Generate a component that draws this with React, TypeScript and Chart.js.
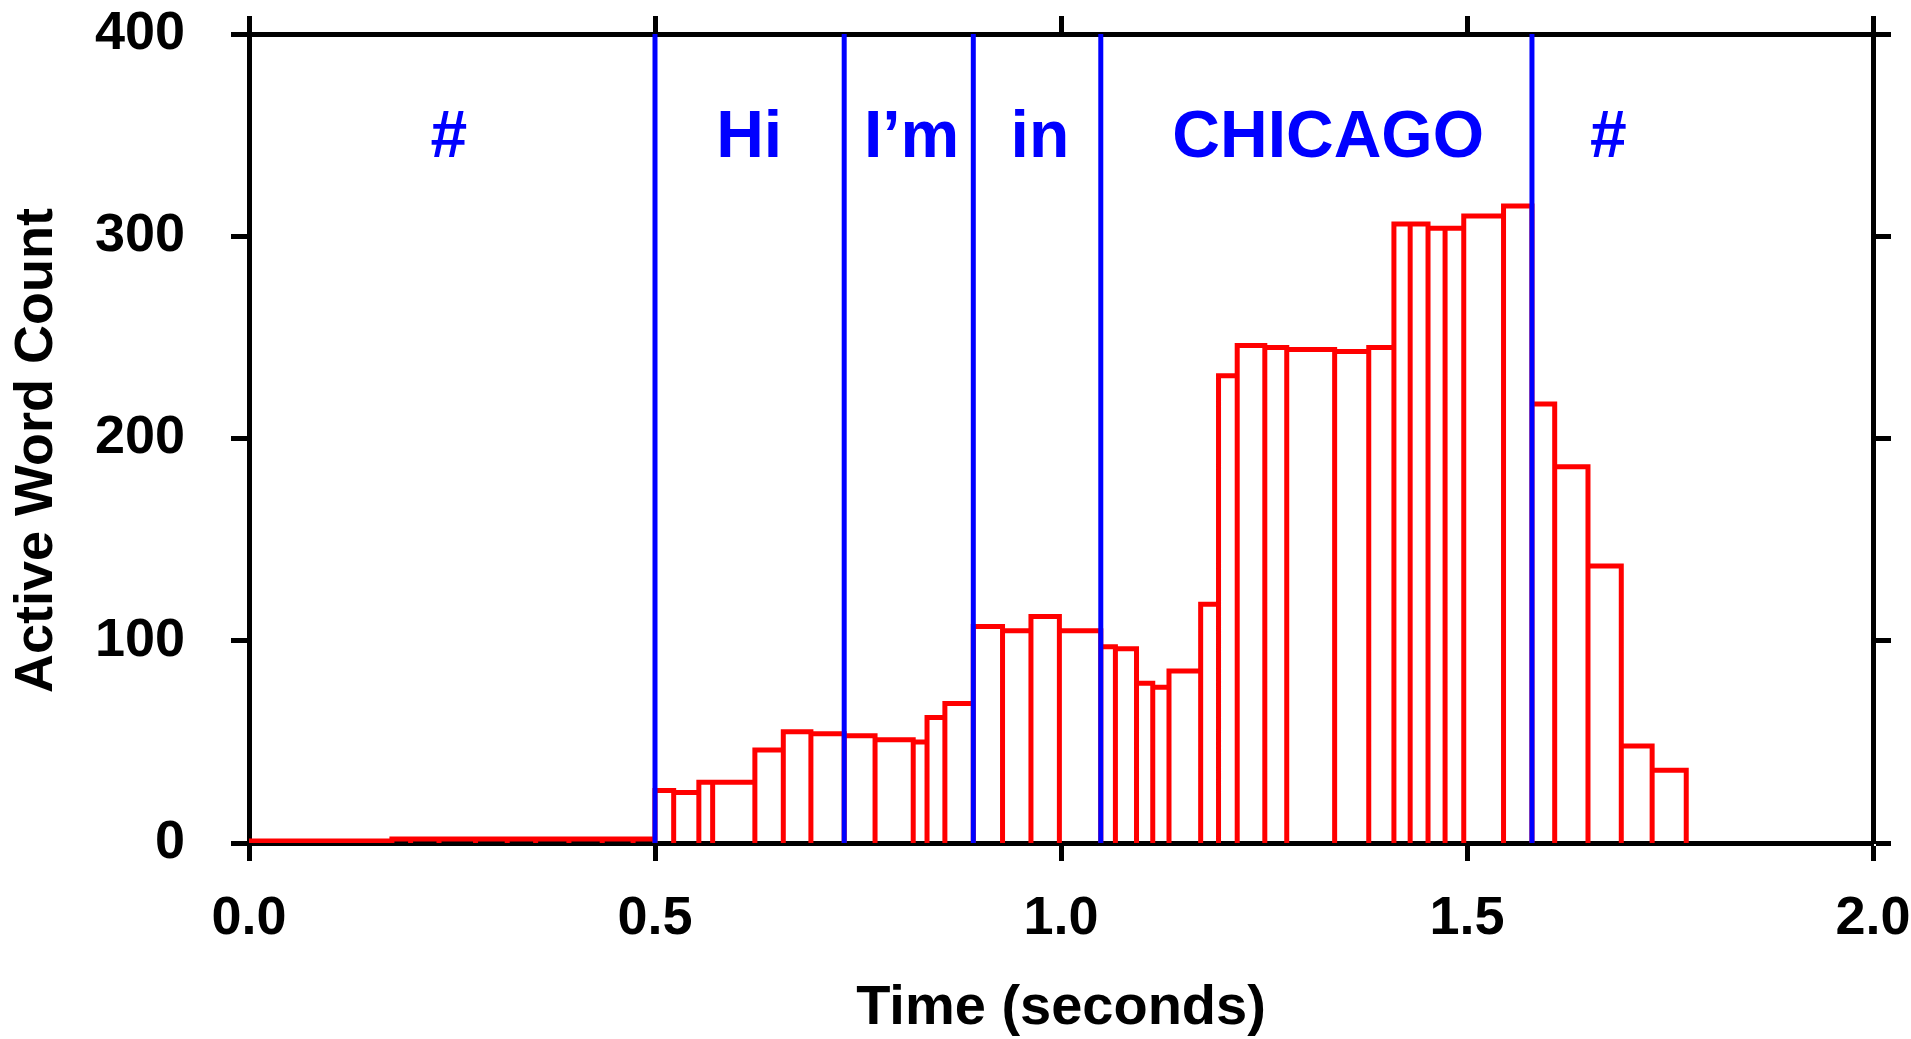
import React, { useEffect, useRef } from "react";
import { Chart, registerables } from "chart.js";

Chart.register(...registerables);

// Bin edges (seconds) and active word counts per bin
const binEdges = [
  0, 0.04, 0.079, 0.117, 0.156, 0.176, 0.199, 0.234, 0.279, 0.318, 0.353, 0.394, 0.435, 0.473,
  0.5, 0.523, 0.554, 0.571, 0.623, 0.658, 0.692, 0.733, 0.771, 0.818, 0.835, 0.857, 0.892,
  0.928, 0.963, 0.998, 1.049, 1.067, 1.093, 1.113, 1.133, 1.172, 1.194,
  1.217, 1.251, 1.278, 1.337, 1.379, 1.41, 1.43, 1.452, 1.473, 1.496, 1.545,
  1.58, 1.608, 1.649, 1.69, 1.728, 1.77,
];
const binCounts = [
  1, 1, 1, 1, 1, 2, 2, 2, 2, 2, 2, 2, 2, 2,
  26, 25, 30, 30, 46, 55, 54, 53, 51, 50, 62, 69,
  107, 105, 112, 105, 97, 96, 79, 77, 85, 118,
  231, 246, 245, 244, 243, 245, 306, 306, 304, 304, 310, 315,
  217, 186, 137, 48, 36,
];

// Word boundaries (seconds) and word labels
const wordBoundaries = [0.5, 0.733, 0.892, 1.049, 1.58];
const words = ["#", "Hi", "I\u2019m", "in", "CHICAGO", "#"];
const wordCenters = [0.246, 0.616, 0.816, 0.974, 1.329, 1.674];
const wordLabelValue = 348;

const xTickLabels = ["0.0", "0.5", "1.0", "1.5", "2.0"];
const yTickLabels = ["0", "100", "200", "300", "400"];
const xTitle = "Time (seconds)";
const yTitle = "Active Word Count";

const FONT = "'Liberation Sans', Arial, Helvetica, sans-serif";

function fixSize(prop: "width" | "height", size: number) {
  return (s: any) => {
    s[prop] = size;
    s.paddingTop = 0;
    s.paddingBottom = 0;
    s.paddingLeft = 0;
    s.paddingRight = 0;
  };
}

export default function App() {
  const canvasRef = useRef<HTMLCanvasElement | null>(null);

  useEffect(() => {
    if (!canvasRef.current) return;

    const barPoints: { x: number; y: number }[] = [];
    for (let i = 0; i < binCounts.length; i++) {
      const l = binEdges[i];
      const r = binEdges[i + 1];
      const v = binCounts[i];
      barPoints.push({ x: l, y: 0 }, { x: l, y: v }, { x: r, y: v }, { x: r, y: 0 });
    }

    const boundarySets = wordBoundaries.map((t) => ({
      data: [
        { x: t, y: 0 },
        { x: t, y: 400 },
      ],
      showLine: true,
      borderColor: "#0000ff",
      borderWidth: 5,
      pointRadius: 0,
      order: 0,
      borderCapStyle: "butt" as const,
    }));

    const textPlugin = {
      id: "wordLabels",
      afterDatasetsDraw(chart: any) {
        const ctx = chart.ctx;
        const xs = chart.scales.x;
        const ys = chart.scales.y;
        ctx.save();
        ctx.fillStyle = "#0000ff";
        ctx.font = `bold 66px ${FONT}`;
        ctx.textAlign = "center";
        ctx.textBaseline = "middle";
        words.forEach((w, i) => {
          ctx.fillText(w, xs.getPixelForValue(wordCenters[i]), ys.getPixelForValue(wordLabelValue));
        });
        // rotated y-axis title
        const area = chart.chartArea;
        ctx.fillStyle = "#000";
        ctx.font = `bold 54px ${FONT}`;
        ctx.translate(37, (area.top + area.bottom) / 2 + 12);
        ctx.rotate(-Math.PI / 2);
        ctx.fillText(yTitle, 0, 0);
        ctx.restore();
      },
    };

    const tickFont = { family: FONT, size: 54, weight: "bold" as const };
    const gridOpts = { drawOnChartArea: false, drawTicks: true, tickLength: 18, tickWidth: 5, tickColor: "#000" };
    const borderOpts = { display: true, color: "#000", width: 5 };

    const chart = new Chart(canvasRef.current, {
      type: "scatter",
      data: {
        datasets: [
          ...boundarySets,
          {
            data: barPoints,
            showLine: true,
            borderColor: "#ff0000",
            borderWidth: 5,
            pointRadius: 0,
            order: 1,
            borderJoinStyle: "miter",
            borderCapStyle: "butt",
          } as any,
        ],
      },
      options: {
        animation: false,
        responsive: false,
        layout: { padding: 0 },
        plugins: {
          legend: { display: false },
          tooltip: { enabled: false },
        },
        scales: {
          x: {
            type: "linear",
            position: "bottom",
            min: 0,
            max: 2,
            z: 1,
            ticks: {
              stepSize: 0.5,
              color: "#000",
              font: tickFont,
              padding: 26,
              maxRotation: 0,
              callback: (_v: any, i: number) => xTickLabels[i],
            },
            grid: gridOpts,
            border: borderOpts,
            title: {
              display: true,
              text: xTitle,
              color: "#000",
              font: { family: FONT, size: 56, weight: "bold", lineHeight: 1.0 },
              padding: { top: 0, bottom: 2 },
            },
            afterFit: fixSize("height", 196),
          },
          x2: {
            type: "linear",
            position: "top",
            min: 0,
            max: 2,
            z: 1,
            ticks: { stepSize: 0.5, display: false },
            grid: gridOpts,
            border: borderOpts,
            afterFit: fixSize("height", 34),
          },
          y: {
            type: "linear",
            position: "left",
            min: 0,
            max: 400,
            z: 1,
            ticks: {
              stepSize: 100,
              color: "#000",
              font: tickFont,
              padding: 46,
              callback: (_v: any, i: number) => yTickLabels[i],
            },
            grid: gridOpts,
            border: borderOpts,
            afterFit: fixSize("width", 249),
          },
          y2: {
            type: "linear",
            position: "right",
            min: 0,
            max: 400,
            z: 1,
            ticks: { stepSize: 100, display: false },
            grid: gridOpts,
            border: borderOpts,
            afterFit: fixSize("width", 38),
          },
        },
      } as any,
      plugins: [textPlugin],
    });

    return () => chart.destroy();
  }, []);

  return (
    <div style={{ position: "fixed", left: 0, top: 0, width: 1911, height: 1039, background: "#fff" }}>
      <canvas ref={canvasRef} width={1911} height={1039} style={{ width: 1911, height: 1039, display: "block" }} />
    </div>
  );
}
